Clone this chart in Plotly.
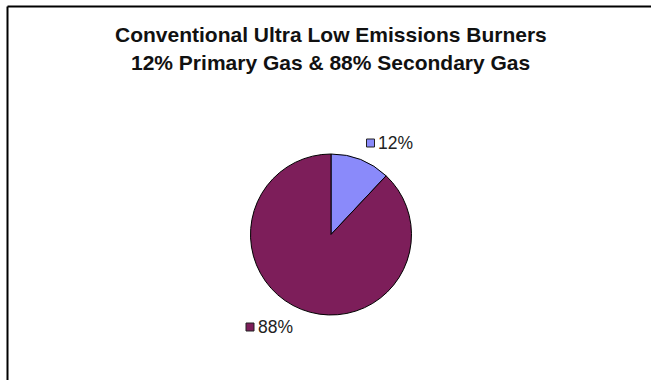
import plotly.graph_objects as go

# Gas split for the conventional ultra low emissions burner
categories = ["Primary Gas", "Secondary Gas"]
shares = [12, 88]
slice_colors = ["#8A8AFA", "#7D1E5A"]
title_lines = [
    "Conventional Ultra Low Emissions Burners",
    "12% Primary Gas & 88% Secondary Gas",
]

W, H = 651, 380
cx, cy, r = 331, 234.5, 80.5  # pie centre and radius in pixels


def px(x):
    return x / W


def py(y):
    return 1 - y / H


fig = go.Figure(
    go.Pie(
        labels=categories,
        values=shares,
        sort=False,
        direction="clockwise",
        rotation=0,
        marker=dict(colors=slice_colors, line=dict(color="black", width=1)),
        textinfo="none",
        hoverinfo="label+percent",
        domain=dict(x=[px(cx - r), px(cx + r)], y=[py(cy + r), py(cy - r)]),
        showlegend=False,
    )
)

annotations = []
shapes = []

# Title, one annotation per line
for line, yc in zip(title_lines, [35, 62.5]):
    annotations.append(dict(
        text=f"<b>{line}</b>", x=px(331), y=py(yc), xref="paper", yref="paper",
        xanchor="center", yanchor="middle", showarrow=False,
        font=dict(family="Liberation Sans, Arial", size=21, color="#111"),
    ))

# Percentage labels with a coloured key square in front of each
label_pos = [(366.5, 143), (246, 327)]
for val, col, (lx, ly) in zip(shares, slice_colors, label_pos):
    shapes.append(dict(
        type="rect", xref="paper", yref="paper",
        x0=px(lx), x1=px(lx + 8), y0=py(ly + 4), y1=py(ly - 4),
        fillcolor=col, line=dict(color="#222", width=1),
    ))
    annotations.append(dict(
        text=f"{val}%", x=px(lx + 9.5), y=py(ly), xref="paper", yref="paper",
        xanchor="left", yanchor="middle", showarrow=False,
        font=dict(family="Liberation Sans, Arial", size=17.5, color="#222"),
    ))

# Chart frame edges along the left and top
shapes.append(dict(type="line", xref="paper", yref="paper",
                   x0=px(7.5), x1=px(W), y0=py(6.5), y1=py(6.5),
                   line=dict(color="black", width=2)))
shapes.append(dict(type="line", xref="paper", yref="paper",
                   x0=px(7.5), x1=px(7.5), y0=py(6.5), y1=py(H),
                   line=dict(color="black", width=2)))

fig.update_layout(
    width=W, height=H,
    margin=dict(l=0, r=0, t=0, b=0),
    paper_bgcolor="white", plot_bgcolor="white",
    annotations=annotations, shapes=shapes,
)

fig.write_html("out.html")
